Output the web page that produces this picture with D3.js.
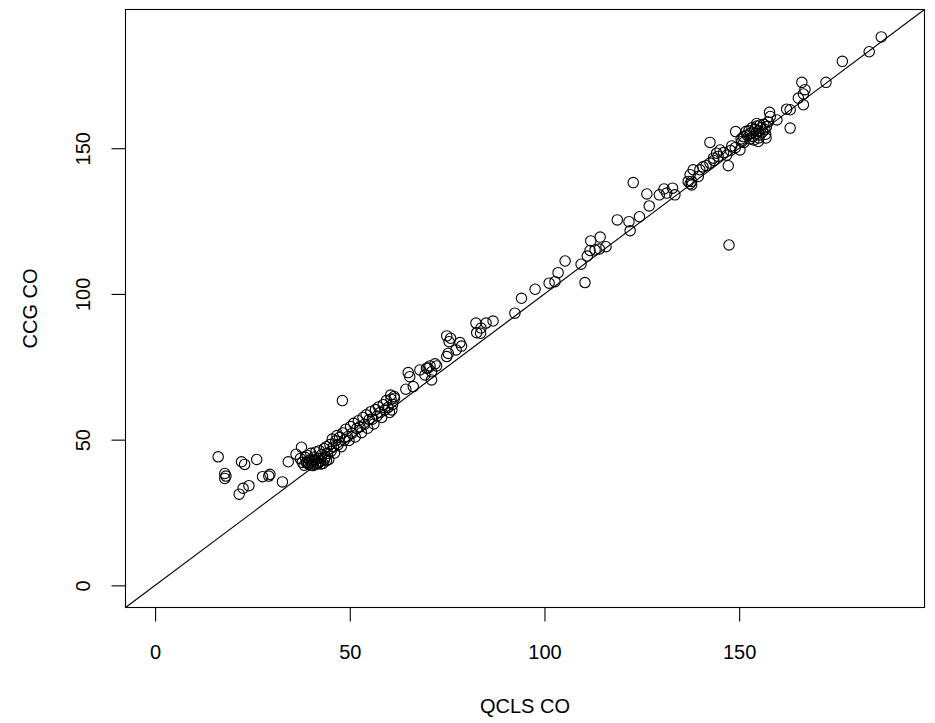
<!DOCTYPE html>
<html>
<head>
<meta charset="utf-8">
<script src="https://cdn.jsdelivr.net/npm/d3@7"></script>
<style>
  html, body { margin: 0; padding: 0; background: #fff; }
  svg text { font-family: "Liberation Sans", Arial, Helvetica, sans-serif; fill: #000; }
</style>
</head>
<body>
<svg id="chart" width="935" height="723"></svg>
<script>
// QCLS CO (x) vs CCG CO (y)
const qclsCO = [
  16.2,17.9,17.9,18.2,22.2,23.0,26.1,21.6,22.6,24.1,27.6,29.5,29.2,32.7,34.2,36.2,37.6,
  38.3,38.6,38.9,39.1,39.4,39.7,40.0,40.2,40.5,40.8,41.0,41.3,41.6,41.9,42.2,42.5,42.8,43.1,43.4,43.7,
  44.0,44.3,44.6,44.9,45.2,45.5,45.8,46.1,46.4,46.7,47.0,47.4,47.8,48.2,48.6,49.0,49.4,49.8,50.2,50.6,
  51.0,51.4,51.8,52.2,52.6,53.0,53.4,53.8,54.2,54.6,55.0,55.4,55.8,56.2,56.6,57.0,57.4,57.8,58.2,58.6,
  59.0,59.4,59.8,60.2,60.6,61.0,61.4,60.8,61.5,60.5,
  39.5,40.5,41.2,42.0,42.5,38.9,40.0,43.5,44.0,41.9,37.3,37.8,
  48.1,
  65.0,65.4,64.4,66.3,68.0,69.7,70.6,71.9,71.0,69.3,71.0,72.3,70.1,
  74.9,75.9,75.5,78.3,78.7,77.3,75.3,74.9,82.6,83.6,82.4,85.0,86.8,83.7,
  92.4,94.1,97.6,101.2,102.7,103.5,105.3,109.4,110.4,111.0,111.7,111.9,113.0,114.3,114.1,115.8,
  118.7,121.7,122.0,124.4,126.9,126.3,122.8,129.5,130.7,131.4,132.9,133.5,137.4,137.8,
  136.9,137.8,139.5,137.4,138.2,142.5,143.4,144.2,145.1,147.2,148.1,150.2,142.5,150.7,151.1,149.1,
  154.9,156.9,155.4,139.9,140.7,141.5,143.5,144.6,146.0,146.8,147.8,149.0,147.4,
  152.0,152.5,153.0,153.3,153.6,154.0,154.3,154.6,155.0,155.3,155.6,156.0,156.3,156.6,157.0,
  152.8,153.8,155.0,151.8,154.5,156.8,157.5,150.5,151.2,
  157.8,158.0,159.7,162.2,163.1,163.1,165.2,166.5,166.5,166.9,166.1,172.3,176.5,183.4,186.5
];
const ccgCO = [
  44.1,38.4,36.7,37.5,42.4,41.5,43.2,31.3,33.3,34.2,37.3,38.1,37.5,35.5,42.4,45.0,47.4,
  41.2,43.9,42.1,44.6,41.6,43.0,45.3,42.4,41.1,44.0,42.8,45.8,41.9,43.6,46.2,42.6,44.9,41.8,46.9,44.0,
  47.6,45.3,43.2,48.3,46.0,50.2,47.5,45.4,49.6,51.4,48.3,50.8,47.6,52.3,49.8,53.6,51.0,49.7,54.5,52.2,
  55.6,50.9,53.8,56.5,54.4,52.4,57.6,55.3,58.5,53.9,56.9,59.6,57.0,55.4,60.3,58.1,61.2,59.3,57.6,62.0,
  60.2,63.4,61.0,59.3,63.9,62.1,64.8,60.2,64.2,65.3,
  42.0,43.1,41.5,42.0,41.6,42.3,41.3,43.2,42.8,42.0,43.5,42.2,
  63.4,
  73.0,71.6,67.3,68.2,73.9,74.5,75.3,76.0,73.3,72.2,70.5,75.3,74.6,
  85.6,84.8,83.6,83.3,82.1,80.8,79.6,78.5,86.7,86.5,90.0,90.0,90.7,88.3,
  93.4,98.5,101.6,103.7,104.2,107.3,111.3,110.2,103.9,113.0,114.9,118.2,115.1,119.5,115.4,116.2,
  125.4,124.8,121.7,126.5,130.2,134.3,138.2,134.0,136.0,134.6,136.3,134.0,137.8,138.6,
  138.6,137.4,140.3,140.9,142.6,144.9,146.6,148.3,149.4,144.0,150.8,149.4,152.0,152.3,154.0,155.7,
  152.3,153.5,158.0,142.6,143.6,144.0,145.8,147.2,148.5,147.6,149.2,150.2,116.8,
  154.5,156.0,155.2,157.0,154.0,156.4,155.0,157.6,156.0,154.6,157.0,155.6,158.2,156.4,157.4,
  153.2,152.8,153.5,155.8,158.5,154.8,159.0,153.2,152.0,
  162.3,160.9,159.7,163.4,163.2,156.9,167.2,164.9,168.6,170.1,172.6,172.6,179.8,183.1,188.2
];
const xTicks = [0, 50, 100, 150];
const yTicks = [0, 50, 100, 150];
const xLabel = "QCLS CO";
const yLabel = "CCG CO";
const axisLimits = [0, 190];

const points = qclsCO.map((v, i) => ({ x: v, y: ccgCO[i] }));

const svg = d3.select("#chart");
const pad = (axisLimits[1] - axisLimits[0]) * 0.04;
const dom = [axisLimits[0] - pad, axisLimits[1] + pad];

const pLeft = 125.5, pRight = 924.5, pTop = 9.5, pBottom = 607.5;
const x = d3.scaleLinear().domain(dom).range([pLeft, pRight]);
const y = d3.scaleLinear().domain(dom).range([pBottom, pTop]);

// points
svg.append("g").selectAll("circle").data(points).join("circle")
  .attr("cx", d => x(d.x)).attr("cy", d => y(d.y)).attr("r", 5.2)
  .attr("fill", "none").attr("stroke", "#000").attr("stroke-width", 1.1);

// y = x line
svg.append("line")
  .attr("x1", x(dom[0])).attr("y1", y(dom[0]))
  .attr("x2", x(dom[1])).attr("y2", y(dom[1]))
  .attr("stroke", "#000").attr("stroke-width", 1.1);

// box
svg.append("rect").attr("x", pLeft).attr("y", pTop)
  .attr("width", pRight - pLeft).attr("height", pBottom - pTop)
  .attr("fill", "none").attr("stroke", "#000").attr("stroke-width", 1.1);

// x axis
const gx = svg.append("g").attr("transform", `translate(0,${pBottom})`)
  .call(d3.axisBottom(x).tickValues(xTicks).tickSize(14).tickSizeOuter(0).tickFormat(d3.format("d")));
gx.select(".domain").remove();
gx.selectAll("line").attr("stroke", "#000").attr("stroke-width", 1.1);
gx.selectAll("text").attr("y", 51).attr("dy", 0).attr("font-size", 20)
  .style("font-family", '"Liberation Sans", Arial, sans-serif');

// y axis
const gy = svg.append("g").attr("transform", `translate(${pLeft},0)`)
  .call(d3.axisLeft(y).tickValues(yTicks).tickSize(14).tickSizeOuter(0).tickFormat(d3.format("d")));
gy.select(".domain").remove();
gy.selectAll("line").attr("stroke", "#000").attr("stroke-width", 1.1);
gy.selectAll("text").attr("x", 0).attr("dy", 0).attr("y", 0)
  .attr("transform", "translate(-35.5,0) rotate(-90)")
  .attr("text-anchor", "middle").attr("font-size", 20)
  .style("font-family", '"Liberation Sans", Arial, sans-serif');

// axis titles
svg.append("text").attr("x", (pLeft + pRight) / 2).attr("y", 713)
  .attr("text-anchor", "middle").attr("font-size", 20).text(xLabel);
svg.append("text")
  .attr("transform", `translate(37,${(pTop + pBottom) / 2}) rotate(-90)`)
  .attr("text-anchor", "middle").attr("font-size", 20).text(yLabel);
</script>
</body>
</html>
